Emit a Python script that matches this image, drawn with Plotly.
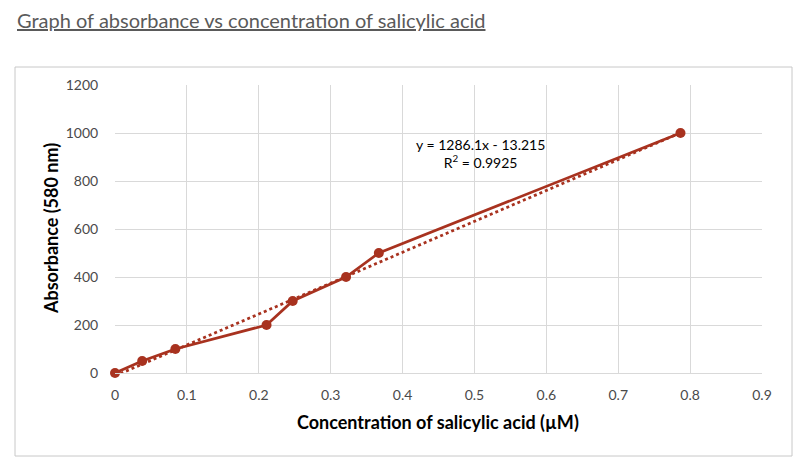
import numpy as np
import plotly.graph_objects as go

concentration = [0.0, 0.0378, 0.0840, 0.2108, 0.2472, 0.3214, 0.3670, 0.7866]
absorbance = [0, 50, 100, 200, 300, 400, 500, 1000]
x_ticks = [0, 0.1, 0.2, 0.3, 0.4, 0.5, 0.6, 0.7, 0.8, 0.9]
x_tick_labels = ["0", "0.1", "0.2", "0.3", "0.4", "0.5", "0.6", "0.7", "0.8", "0.9"]
y_ticks = [0, 200, 400, 600, 800, 1000, 1200]

title_text = "Graph of absorbance vs concentration of salicylic acid"
x_title = "Concentration of salicylic acid (µM)"
y_title = "Absorbance (580 nm)"
eq_text = "y = 1286.1x - 13.215<br>R<sup>2</sup> = 0.9925"

RED = "#A8321F"
GRAY_TXT = "#4A4A4A"
FONT = "Lato, 'Open Sans', sans-serif"

slope, intercept = np.polyfit(concentration, absorbance, 1)
trend_x = [min(concentration), max(concentration)]
trend_y = [slope * v + intercept for v in trend_x]

fig = go.Figure()
fig.add_trace(go.Scatter(
    x=trend_x, y=trend_y, mode="lines",
    line=dict(color=RED, width=2.75, dash="dot"),
    showlegend=False, hoverinfo="skip",
))
fig.add_trace(go.Scatter(
    x=concentration, y=absorbance, mode="lines+markers",
    line=dict(color=RED, width=2.75),
    marker=dict(color=RED, size=10),
    showlegend=False, cliponaxis=False,
))

W, H = 811, 469
ml, mr, mt, mb = 115, 49, 85, 96
pw, ph = W - ml - mr, H - mt - mb

def px(xpix):
    return (xpix - ml) / pw

def py(ypix):
    return (H - mb - ypix) / ph

fig.update_layout(
    width=W, height=H,
    margin=dict(l=ml, r=mr, t=mt, b=mb),
    paper_bgcolor="white", plot_bgcolor="white",
    font=dict(family=FONT, color=GRAY_TXT, size=14),
    xaxis=dict(
        range=[0, 0.9], tickmode="array", tickvals=x_ticks, ticktext=x_tick_labels,
        showgrid=True, gridcolor="#D9D9D9", gridwidth=1,
        zeroline=False, showline=True, linecolor="#D9D9D9", mirror=False,
        ticks="outside", ticklen=9, tickcolor="rgba(0,0,0,0)",
        tickfont=dict(size=14, color=GRAY_TXT, family=FONT),
    ),
    yaxis=dict(
        range=[0, 1200], tickmode="array", tickvals=y_ticks,
        showgrid=True, gridcolor="#D9D9D9", gridwidth=1,
        zeroline=False, showline=False,
        ticks="outside", ticklen=13, tickcolor="rgba(0,0,0,0)",
        tickfont=dict(size=14, color=GRAY_TXT, family=FONT),
    ),
    shapes=[
        dict(type="rect", xref="paper", yref="paper",
             x0=px(15), x1=px(792), y0=py(456), y1=py(67),
             line=dict(color="#C8C8C8", width=1), fillcolor="rgba(0,0,0,0)",
             layer="below"),
    ],
    annotations=[
        dict(text="<u>" + title_text + "</u>", xref="paper", yref="paper",
             x=px(15), y=py(20), xanchor="left", yanchor="middle",
             showarrow=False, font=dict(size=20, color="#5A5A5A", family=FONT)),
        dict(text="<b>" + x_title + "</b>", xref="paper", yref="paper",
             x=px(438), y=py(422), xanchor="center", yanchor="middle",
             showarrow=False, font=dict(size=18, color="black", family=FONT)),
        dict(text="<b>" + y_title + "</b>", xref="paper", yref="paper",
             x=px(51), y=py(229), xanchor="center", yanchor="middle", textangle=-90,
             showarrow=False, font=dict(size=18, color="black", family=FONT)),
        dict(text=eq_text, xref="x", yref="y",
             x=0.509, y=913, xanchor="center", yanchor="middle", align="center",
             showarrow=False, font=dict(size=14, color="black", family=FONT)),
    ],
)

fig.write_html("out.html")
